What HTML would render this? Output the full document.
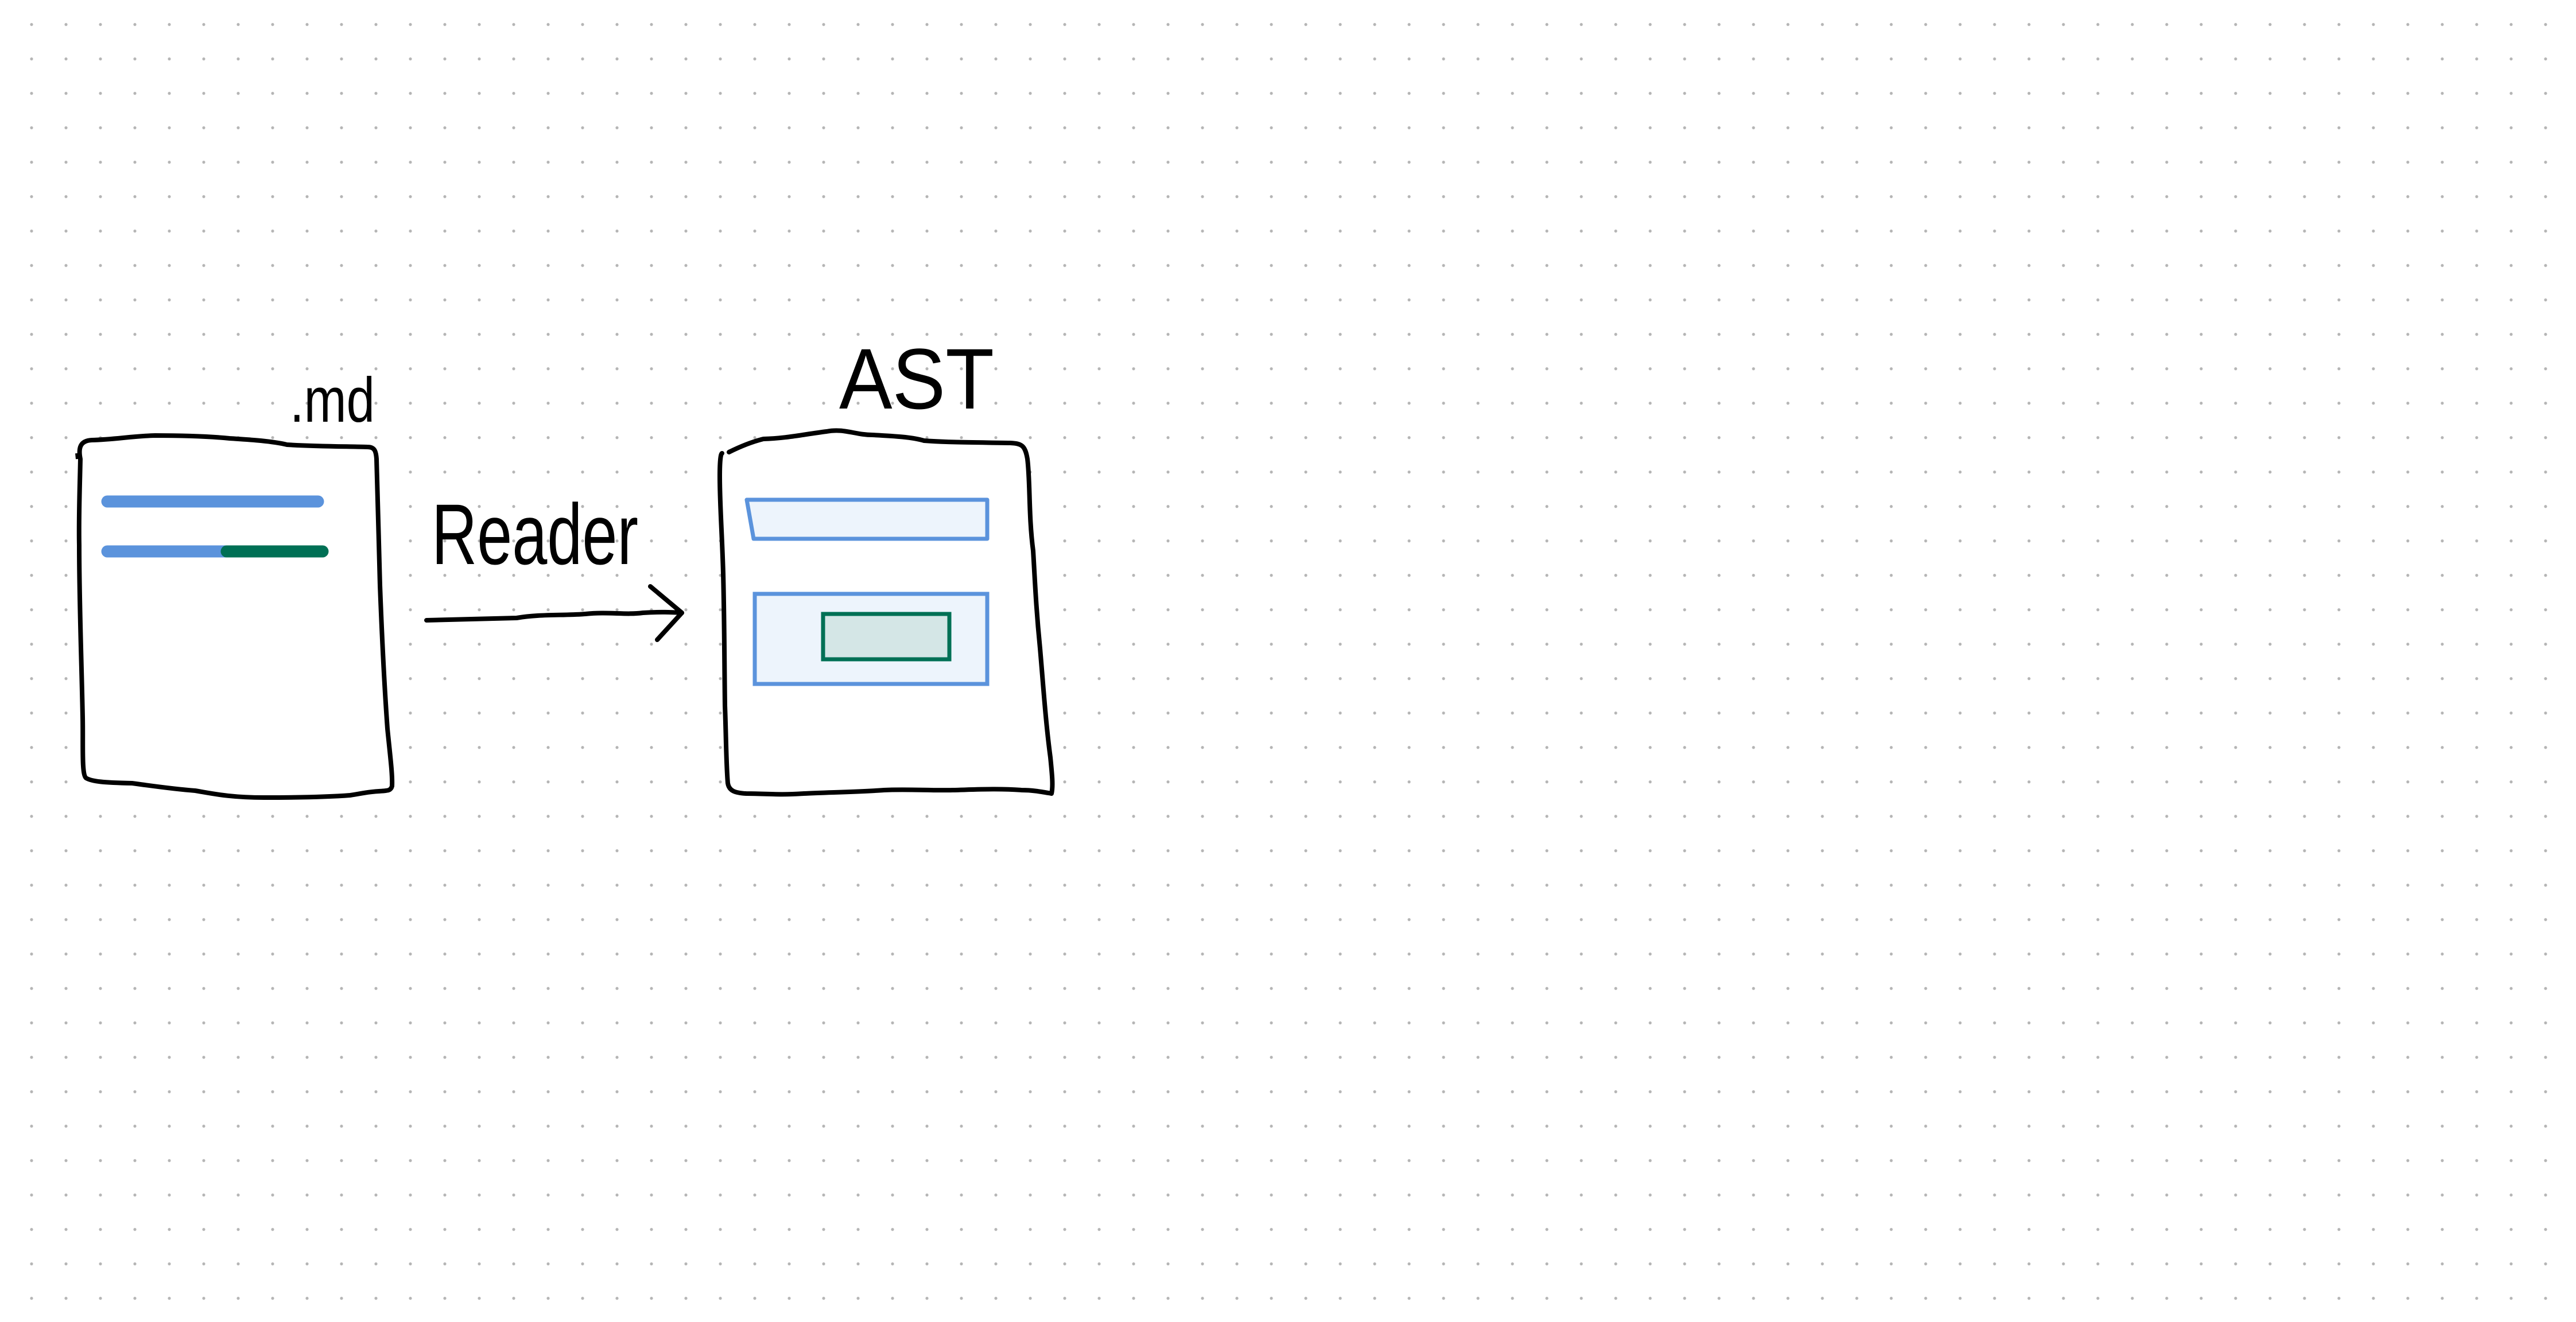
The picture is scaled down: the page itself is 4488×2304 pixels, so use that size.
<!DOCTYPE html>
<html><head><meta charset="utf-8">
<style>
html,body{margin:0;padding:0;background:#fff;}
svg{display:block;}
text{font-family:"Liberation Sans",sans-serif;fill:#000;}
</style></head>
<body>
<svg width="4488" height="2304" viewBox="0 0 4488 2304" xmlns="http://www.w3.org/2000/svg">
<defs>
<pattern id="dots" x="25" y="12.7" width="60" height="60" patternUnits="userSpaceOnUse">
<circle cx="30" cy="30" r="2.6" fill="#b5b5b5"/>
</pattern>
</defs>
<rect width="4488" height="2304" fill="#fff"/>
<rect width="4488" height="2304" fill="url(#dots)"/>

<!-- left box -->
<path d="M140,800 C136,780 140,768 160,767 C200,766 230,760 270,759 C320,759 360,760 400,764 C430,766 470,768 500,775 C550,778 600,778 640,779 C652,779 655,785 656,800 C658,860 660,950 662,1020 C665,1100 670,1200 675,1270 C680,1320 684,1350 683,1370 C681,1378 676,1378 660,1379 C640,1380 630,1383 610,1386 C570,1389 520,1390 460,1390 C400,1390 370,1383 340,1378 C300,1375 260,1369 230,1365 C180,1364 160,1362 150,1356 C142,1350 145,1300 144,1250 C142,1150 138,1050 138,950 C137,900 139,850 140,800 Z" fill="#fff" stroke="#000" stroke-width="8" stroke-linejoin="round"/>
<path d="M134,790 L135,800" stroke="#000" stroke-width="6"/>
<!-- lines -->
<line x1="187" y1="874" x2="554" y2="874" stroke="#5b93dc" stroke-width="21" stroke-linecap="round"/>
<line x1="187" y1="961" x2="395" y2="961" stroke="#5b93dc" stroke-width="21" stroke-linecap="round"/>
<line x1="395" y1="961" x2="562" y2="961" stroke="#007055" stroke-width="21" stroke-linecap="round"/>

<!-- .md label -->
<text x="505" y="735" font-size="110" textLength="148" lengthAdjust="spacingAndGlyphs">.md</text>

<!-- Reader label -->
<text x="752" y="983" font-size="150" textLength="360" lengthAdjust="spacingAndGlyphs">Reader</text>

<!-- arrow -->
<path d="M743,1081 C800,1080 850,1078 900,1077 C940,1070 980,1073 1020,1070 C1060,1066 1090,1072 1120,1068 C1150,1066 1170,1067 1188,1068" fill="none" stroke="#000" stroke-width="8" stroke-linecap="round"/>
<path d="M1133,1022 L1188,1068 L1145,1115" fill="none" stroke="#000" stroke-width="8" stroke-linecap="round" stroke-linejoin="round"/>

<!-- AST label -->
<text x="1462" y="712" font-size="150" textLength="270" lengthAdjust="spacingAndGlyphs">AST</text>

<!-- right box -->
<path d="M1270,788 C1290,778 1310,770 1330,765 C1370,764 1400,757 1440,752 C1470,746 1490,758 1520,758 C1560,760 1590,762 1610,768 C1650,771 1700,771 1760,772 C1780,773 1786,776 1790,800 C1795,840 1792,900 1800,960 C1803,1010 1805,1060 1812,1130 C1818,1200 1822,1260 1830,1320 C1833,1350 1835,1370 1832,1383 C1815,1380 1800,1377 1780,1377 C1740,1374 1700,1376 1660,1377 C1620,1378 1580,1375 1540,1377 C1500,1380 1440,1381 1400,1383 C1360,1386 1330,1383 1300,1383 C1280,1382 1270,1378 1268,1365 C1265,1330 1265,1280 1263,1230 C1262,1150 1262,1080 1260,1000 C1258,930 1254,880 1254,830 C1254,800 1256,790 1258,790" fill="#fff" stroke="#000" stroke-width="8" stroke-linejoin="round" stroke-linecap="round"/>

<!-- inner rect 1 -->
<path d="M1301,871 L1720,871 L1720,939 L1313,939 Z" fill="#edf4fc" stroke="#5b93dc" stroke-width="7" stroke-linejoin="round"/>
<!-- inner rect 2 -->
<rect x="1315" y="1035" width="405" height="157" fill="#edf4fc" stroke="#5b93dc" stroke-width="7"/>
<!-- green rect -->
<rect x="1434" y="1070" width="220" height="79" fill="#d4e6e6" stroke="#007055" stroke-width="7"/>
</svg>
</body></html>
